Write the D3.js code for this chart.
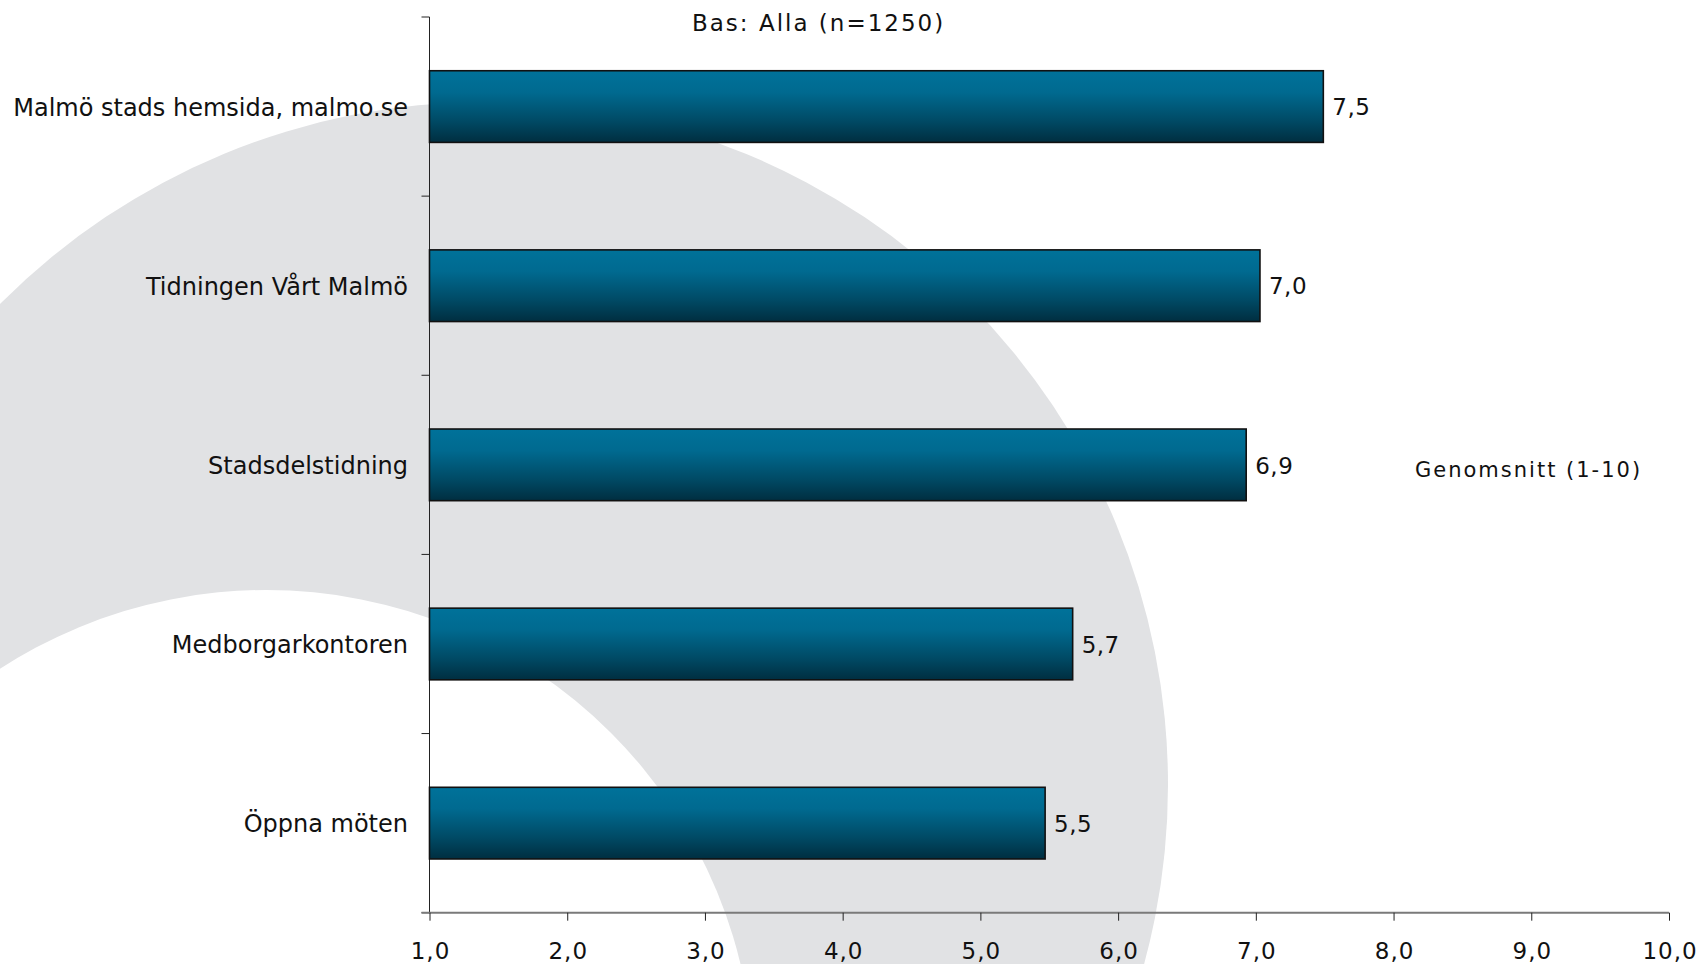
<!DOCTYPE html>
<html><head><meta charset="utf-8">
<script src="https://cdn.jsdelivr.net/npm/d3@7"></script>
<style>
body{margin:0;background:#fff;}
text{font-family:"DejaVu Sans",Verdana,sans-serif;fill:#111;}
</style>
</head><body>
<svg id="chart" width="1703" height="964"></svg>
<script>
const categories = ["Malmö stads hemsida, malmo.se", "Tidningen Vårt Malmö", "Stadsdelstidning", "Medborgarkontoren", "Öppna möten"];
const values = [7.49, 7.03, 6.93, 5.67, 5.47];
const xTicks = [1, 2, 3, 4, 5, 6, 7, 8, 9, 10];
const titleText = "Bas: Alla (n=1250)";
const seriesName = "Genomsnitt (1-10)";

(function () {
const svg = d3.select("#chart");
const pLeft = 429.5, pRight = 1669, pTop = 17, pBottom = 912.7;

// background crescent decoration
const bg = svg.append("g");
bg.append("circle").attr("cx", 485).attr("cy", 785).attr("r", 683).attr("fill", "#e1e2e4");
bg.append("circle").attr("cx", 266).attr("cy", 1078).attr("r", 488).attr("fill", "#ffffff");

const x = d3.scaleLinear().domain([1, 10]).range([pLeft, pRight]);
const y = d3.scaleBand().domain(categories).range([pTop, pBottom]).paddingInner(0.6).paddingOuter(0.3);

const fmt = d => d3.format(".1f")(d).replace(".", ",");

// gradient
const defs = svg.append("defs");
const grad = defs.append("linearGradient").attr("id", "barGrad").attr("x1", 0).attr("y1", 0).attr("x2", 0).attr("y2", 1);
grad.append("stop").attr("offset", "0").attr("stop-color", "#00729a");
grad.append("stop").attr("offset", "0.3").attr("stop-color", "#006a90");
grad.append("stop").attr("offset", "0.7").attr("stop-color", "#004a65");
grad.append("stop").attr("offset", "1").attr("stop-color", "#002e40");

// y axis line and ticks at band boundaries
const step = y.step();
const boundaries = categories.map(c => y(c) - step * y.paddingInner() / 2).concat([pBottom]);
svg.append("line").attr("x1", pLeft).attr("x2", pLeft).attr("y1", pTop).attr("y2", pBottom)
  .attr("stroke", "#222").attr("stroke-width", 1);
svg.selectAll(".ytick").data(boundaries).join("line").attr("class", "ytick")
  .attr("x1", pLeft - 8).attr("x2", pLeft).attr("y1", d => d).attr("y2", d => d)
  .attr("stroke", "#222").attr("stroke-width", 1);

// x axis
svg.append("line").attr("x1", pLeft - 8).attr("x2", pRight).attr("y1", pBottom).attr("y2", pBottom)
  .attr("stroke", "#7a7a7a").attr("stroke-width", 2);
const xAxis = d3.axisBottom(x).tickValues(xTicks).tickFormat(fmt).tickSize(8).tickSizeOuter(0);
const gx = svg.append("g").attr("transform", `translate(0,${pBottom})`).call(xAxis);
gx.select(".domain").remove();
gx.selectAll(".tick line").attr("stroke", "#222").attr("stroke-width", 1);
gx.selectAll(".tick text").attr("y", 0).attr("dy", 0)
  .attr("transform", "translate(0.5,46)")
  .style("font-size", "23px").style("letter-spacing", "1px")
  .style("font-family", "'DejaVu Sans', Verdana, sans-serif").attr("fill", "#111");

// bars
svg.selectAll(".bar").data(values).join("rect").attr("class", "bar")
  .attr("x", x(1))
  .attr("y", (d, i) => y(categories[i]))
  .attr("width", d => x(d) - x(1))
  .attr("height", y.bandwidth())
  .attr("fill", "url(#barGrad)")
  .attr("stroke", "#111").attr("stroke-width", 1.6);

// value labels
svg.selectAll(".val").data(values).join("text").attr("class", "val")
  .attr("x", d => x(d) + 9)
  .attr("y", (d, i) => y(categories[i]) + y.bandwidth() / 2)
  .attr("dy", "0.38em")
  .style("font-size", "23px").style("letter-spacing", "0.5px")
  .text(d => fmt(d));

// category labels
svg.selectAll(".cat").data(categories).join("text").attr("class", "cat")
  .attr("x", 408)
  .attr("y", d => y(d) + y.bandwidth() / 2)
  .attr("dy", "0.38em")
  .attr("text-anchor", "end")
  .style("font-size", "24px")
  .text(d => d);

// title
svg.append("text").attr("x", 692).attr("y", 31)
  .style("font-size", "23px").style("letter-spacing", "2px")
  .text(titleText);

// series name
svg.append("text").attr("x", 1415).attr("y", 477)
  .style("font-size", "21px").style("letter-spacing", "2px")
  .text(seriesName);
})();
</script>
</body></html>
